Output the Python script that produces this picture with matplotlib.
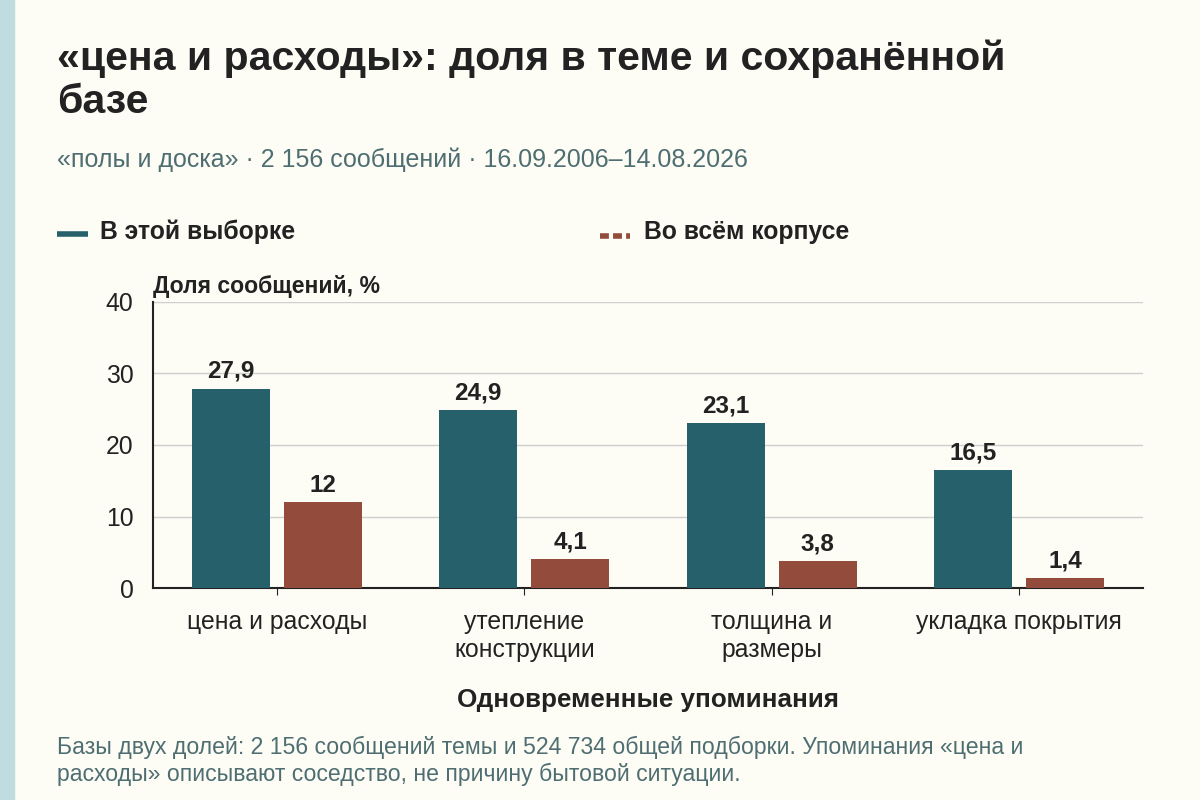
import numpy as np
import matplotlib
matplotlib.use("Agg")
import matplotlib.pyplot as plt
from matplotlib.lines import Line2D

plt.rcParams['font.family'] = ['Liberation Sans', 'DejaVu Sans']

# данные
categories = ['цена и расходы', 'утепление\nконструкции', 'толщина и\nразмеры', 'укладка покрытия']
sample_share = [27.9, 24.9, 23.1, 16.5]
corpus_share = [12, 4.1, 3.8, 1.4]
sample_labels = ['27,9', '24,9', '23,1', '16,5']
corpus_labels = ['12', '4,1', '3,8', '1,4']

bg = '#fdfcf5'
teal = '#25606b'
rust = '#934c3b'
dark = '#222222'
muted = '#4e6e72'

fig = plt.figure(figsize=(12, 8), dpi=100, facecolor=bg)
# полоска слева
fig.patches.append(plt.Rectangle((0, 0), 14 / 1200, 1, transform=fig.transFigure,
                                 color='#bfdde1', zorder=0))

fig.text(57 / 1200, 1 - 59 / 800, '«цена и расходы»: доля в теме и сохранённой',
         fontsize=29.5, fontweight='bold', color=dark, va='center')
fig.text(57 / 1200, 1 - 102 / 800, 'базе',
         fontsize=29.5, fontweight='bold', color=dark, va='center')
fig.text(57 / 1200, 1 - 160 / 800, '«полы и доска» · 2 156 сообщений · 16.09.2006–14.08.2026',
         fontsize=18, color=muted, va='center')

# легенда
fig.add_artist(Line2D([57 / 1200, 88 / 1200], [1 - 234 / 800] * 2, color=teal, lw=4,
                      solid_capstyle='butt'))
fig.text(100 / 1200, 1 - 232 / 800, 'В этой выборке', fontsize=17.8, fontweight='bold',
         color=dark, va='center')
fig.add_artist(Line2D([600 / 1200, 630 / 1200], [1 - 236 / 800] * 2, color=rust, lw=4,
                      dashes=(1.6, 0.75), dash_capstyle='butt'))
fig.text(644 / 1200, 1 - 232 / 800, 'Во всём корпусе', fontsize=17.8, fontweight='bold',
         color=dark, va='center')

ax = fig.add_axes([153 / 1200, 1 - 588 / 800, 990 / 1200, 286 / 800])
ax.set_facecolor(bg)

x = np.arange(len(categories))
w = 0.315
b1 = ax.bar(x - 0.186, sample_share, w, color=teal, zorder=3)
b2 = ax.bar(x + 0.186, corpus_share, w, color=rust, zorder=3)
for bars, labels in ((b1, sample_labels), (b2, corpus_labels)):
    for rect, lab in zip(bars, labels):
        ax.annotate(lab, (rect.get_x() + rect.get_width() / 2, rect.get_height()),
                    xytext=(0, 4), textcoords='offset points', ha='center', va='bottom',
                    fontsize=17.5, fontweight='bold', color=dark)

ax.set_xlim(-0.5, 3.5)
ax.set_ylim(0, 40)
ax.set_yticks([0, 10, 20, 30, 40])
ax.yaxis.grid(True, color='#cfcfcf', lw=1, zorder=0)
ax.set_xticks(x)
ax.set_xticklabels(categories, fontsize=17.8, color=dark, linespacing=1.2)
ax.tick_params(axis='y', length=0, labelsize=17.8, labelcolor=dark, pad=14)
ax.tick_params(axis='x', length=5, color=dark, pad=11)
for s in ('top', 'right'):
    ax.spines[s].set_visible(False)
for s in ('left', 'bottom'):
    ax.spines[s].set_color(dark)
    ax.spines[s].set_linewidth(1.5)

ax.text(0, 1.0 + 4 / 286, 'Доля сообщений, %', transform=ax.transAxes, fontsize=16.6,
        fontweight='bold', color=dark, va='bottom', ha='left')
fig.text(648 / 1200, 1 - 700 / 800, 'Одновременные упоминания', fontsize=18.7,
         fontweight='bold', color=dark, ha='center', va='center')

fig.text(57 / 1200, 1 - 761 / 800,
         'Базы двух долей: 2 156 сообщений темы и 524 734 общей подборки. Упоминания «цена и\n'
         'расходы» описывают соседство, не причину бытовой ситуации.',
         fontsize=16.6, color=muted, va='center', linespacing=1.2)

fig.savefig('out.png', dpi=100, facecolor=bg)
